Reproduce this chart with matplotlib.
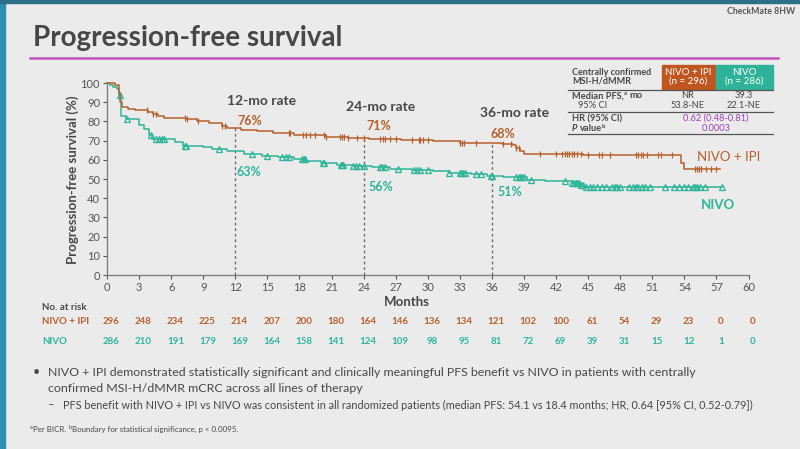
import numpy as np
import matplotlib
matplotlib.use("Agg")
import matplotlib.pyplot as plt
from matplotlib.transforms import blended_transform_factory
from matplotlib.patches import Rectangle

# ---------------- data ----------------
months_ticks = list(range(0, 61, 3))
yticks = list(range(0, 101, 10))

combo_t = [0, 0.75, 1.1, 1.25, 1.4, 2.0, 2.6, 3.8, 4.3, 4.8, 5.3, 7.4, 8.4, 9.5, 10.8, 11.2,
           12.5, 14.0, 15.5, 17.5, 20.5, 22.5, 24.5, 27.5, 30.5, 33.0, 36.9, 38.0, 38.3, 38.6,
           39.0, 44.5, 53.7, 54.0]
combo_s = [100, 99, 95, 90, 87.5, 86.5, 86, 85, 84, 83, 82, 81, 80, 79, 77.5, 76.5,
           75.5, 75, 74, 73, 72, 71.5, 71, 70.5, 70, 69, 68, 67.5, 66, 64.5,
           63, 62.3, 58.5, 55]
combo_end = 57.3
combo_cens = [3.7, 4.3, 4.6, 7.3, 7.5, 8.5, 10.8, 11.0, 17.0, 17.1, 18.3, 18.6, 19.0, 19.5,
              20.3, 20.5, 21.8, 22.0, 22.2, 22.5, 23.4, 24.0, 25.5, 25.8, 26.0, 26.5, 27.0,
              28.5, 29.2, 29.3, 29.6, 30.0, 33.0, 33.2, 33.4, 34.5, 37.0, 37.8, 38.3, 38.5,
              40.5, 42.0, 42.6, 42.8, 43.0, 43.2, 43.5, 43.7, 44.0, 44.3, 45.0, 46.0, 46.3,
              47.0, 49.5, 49.7, 49.9, 50.1, 50.5, 51.5, 51.8, 52.8, 55.0, 55.2, 55.4, 55.6,
              56.0, 56.5, 57.0]

nivo_t = [0, 0.3, 0.6, 0.9, 1.1, 1.35, 1.8, 3.0, 3.5, 3.9, 4.2, 6.4, 7.1, 9.0, 9.8, 11.2,
          12.8, 14.5, 16.0, 17.5, 18.6, 20.0, 21.5, 23.0, 24.8, 26.5, 28.5, 30.5, 32.0,
          34.0, 35.5, 37.0, 39.3, 41.0, 43.5, 44.2, 44.6]
nivo_s = [100, 99, 98, 97, 94, 83, 81, 78, 76, 73, 71, 69.5, 67, 66.5, 65.5, 64.5,
          63, 62, 61.5, 60.5, 59.5, 58.5, 57.5, 57, 56, 55, 54.5, 54, 53,
          52.5, 51.5, 51, 49.5, 49, 48, 47, 46]
nivo_end = 57.5
nivo_cens = [1.2, 1.9, 4.1, 4.6, 4.9, 5.1, 5.3, 7.3, 7.4, 10.5, 13.6, 15.0, 16.4, 16.7, 17.0,
             18.2, 18.4, 18.5, 20.2, 20.3, 21.9, 22.0, 22.1, 23.0, 23.3, 23.6, 24.0, 25.5,
             25.7, 26.0, 27.2, 28.7, 29.0, 29.3, 30.0, 32.0, 33.0, 33.1, 33.3, 33.5, 34.5,
             35.0, 35.9, 36.0, 38.3, 38.5, 38.6, 38.8, 39.0, 39.7, 42.8, 43.5, 43.7, 43.9,
             44.0, 44.1, 44.3, 44.5, 44.8, 45.2, 45.5, 45.8, 46.3, 46.7, 47.2, 47.5, 47.7,
             48.0, 48.8, 49.2, 49.5, 49.7, 50.0, 50.3, 50.8, 52.2, 53.0, 53.5, 54.0, 54.3,
             54.8, 55.0, 55.2, 55.5, 55.9, 57.5]

rate_months = [12, 24, 36]
rate_titles = ["12-mo rate", "24-mo rate", "36-mo rate"]
combo_rates = ["76%", "71%", "68%"]
nivo_rates = ["63%", "56%", "51%"]

risk_combo = [296, 248, 234, 225, 214, 207, 200, 180, 164, 146, 136, 134, 121, 102, 100,
              61, 54, 29, 23, 0, 0]
risk_nivo = [286, 210, 191, 179, 169, 164, 158, 141, 124, 109, 98, 95, 81, 72, 69,
             39, 31, 15, 12, 1, 0]

# ---------------- style ----------------
BG = "#ebebeb"
ORANGE = "#b5602c"
GREEN = "#2db597"
PURPLE = "#9a40b8"
DARK = "#474747"
FONT = ["Lato", "DejaVu Sans"]
plt.rcParams["font.family"] = FONT

W, H = 800, 449
fig = plt.figure(figsize=(W / 100, H / 100), dpi=100, facecolor=BG)
renderer = fig.canvas.get_renderer()


def T(x, y, s, **kw):
    kw.setdefault("va", "center")
    return fig.text(x / W, 1 - y / H, s, **kw)


def chain(x, y, parts, **kw):
    """Place text pieces one after another; parts = (text, dy, gap_after, kwargs)."""
    for s, dy, gap, extra in parts:
        opts = dict(kw)
        opts.update(extra)
        t = T(x, y + dy, s, **opts)
        bb = t.get_window_extent(renderer)
        x = bb.x1 + gap


# slide decorations
fig.patches.append(Rectangle((0, 0), 5 / W, 1, transform=fig.transFigure,
                             color="#2f8fb0", zorder=0))
fig.patches.append(Rectangle((0, 1 - 2.5 / H), 1, 2.5 / H, transform=fig.transFigure,
                             color="#2c6f86", zorder=0))
fig.add_artist(plt.Line2D([30 / W, 778 / W], [1 - 57.5 / H] * 2, color="#c052c0", lw=1.8))

T(33, 38, "Progression-free survival", fontsize=20, fontweight="bold", color=DARK)
T(795, 11, "CheckMate 8HW", fontsize=6.3, fontweight="bold", color="#555555", ha="right")

# ---------------- axes ----------------
ax = fig.add_axes([107 / W, 1 - 275 / H, 641.5 / W, 192 / H])
ax.set_facecolor(BG)
ax.set_xlim(0, 60)
ax.set_ylim(0, 100)
for sp in ["top", "right"]:
    ax.spines[sp].set_visible(False)
for sp in ["left", "bottom"]:
    ax.spines[sp].set_color("#808080")
    ax.spines[sp].set_linewidth(1)
ax.set_xticks(months_ticks)
ax.set_yticks(yticks)
ax.tick_params(labelsize=8, colors="#555555", length=3, width=0.8, pad=2)


def step_vals(t, s, q):
    idx = np.searchsorted(t, q, side="right") - 1
    return np.asarray(s)[idx]


ct = np.array(combo_t + [combo_end])
cs = np.array(combo_s + [combo_s[-1]])
nt = np.array(nivo_t + [nivo_end])
ns = np.array(nivo_s + [nivo_s[-1]])

ax.step(nt, ns, where="post", color=GREEN, lw=1.1, clip_on=False, zorder=3)
ax.step(ct, cs, where="post", color=ORANGE, lw=1.1, clip_on=False, zorder=4)
ax.plot(nivo_cens, step_vals(nt, ns, nivo_cens), ls="none", marker="^", ms=4,
        mfc="none", mec=GREEN, mew=0.9, clip_on=False, zorder=3)
ax.plot(combo_cens, step_vals(ct, cs, combo_cens), ls="none", marker="|", ms=5,
        mec=ORANGE, mew=0.9, clip_on=False, zorder=4)

# dashed landmark lines
ax.vlines(rate_months, 0, step_vals(ct, cs, rate_months), colors="#6e6e6e",
          linestyles=(0, (2, 2)), lw=1, zorder=2)

rate_title_pos = [(14.5, 90.8), (25.6, 87.6), (38.1, 84.5)]
combo_rate_pos = [(12.15, 80.2), (24.3, 77.4), (35.9, 73.2)]
nivo_rate_pos = [(12.15, 53.7), (24.5, 45.9), (36.5, 43.3)]
for i in range(3):
    ax.text(*rate_title_pos[i], rate_titles[i], fontsize=10, fontweight="bold",
            color=DARK, ha="center", va="center")
    ax.text(*combo_rate_pos[i], combo_rates[i], fontsize=9, fontweight="bold",
            color=ORANGE, ha="left", va="center")
    ax.text(*nivo_rate_pos[i], nivo_rates[i], fontsize=9, fontweight="bold",
            color=GREEN, ha="left", va="center")

ax.text(55.2, 61.6, "NIVO + IPI", fontsize=9.5, color=ORANGE, va="center")
ax.text(55.5, 36.5, "NIVO", fontsize=9.5, fontweight="bold", color=GREEN, va="center")

T(73, 180, "Progression-free survival (%)", fontsize=9.5, fontweight="bold",
  color=DARK, rotation=90, ha="center")
T(407, 302, "Months", fontsize=9.5, fontweight="bold", color=DARK, ha="center")

# ---------------- number at risk ----------------
tr = blended_transform_factory(ax.transData, fig.transFigure)
T(42, 308, "No. at risk", fontsize=7, fontweight="bold", color=DARK)
T(42, 321, "NIVO + IPI", fontsize=7, fontweight="bold", color=ORANGE)
T(42, 341, "NIVO", fontsize=7, fontweight="bold", color=GREEN)
for m, a, b in zip(months_ticks, risk_combo, risk_nivo):
    ax.text(m + 0.4, 1 - 321 / H, str(a), transform=tr, fontsize=7, fontweight="bold",
            color=ORANGE, ha="center", va="center")
    ax.text(m + 0.4, 1 - 341 / H, str(b), transform=tr, fontsize=7, fontweight="bold",
            color=GREEN, ha="center", va="center")

# ---------------- summary table ----------------
fig.patches.append(Rectangle((661.5 / W, 1 - 88.5 / H), 53.5 / W, 23.5 / H,
                             transform=fig.transFigure, color="#c0561f", zorder=1))
fig.patches.append(Rectangle((715.5 / W, 1 - 88.5 / H), 57.5 / W, 23.5 / H,
                             transform=fig.transFigure, color="#2eb39a", zorder=1))
T(572, 77, "Centrally confirmed\nMSI-H/dMMR", fontsize=6.5, fontweight="bold",
  color=DARK, linespacing=0.95)
T(688, 77, "NIVO + IPI\n(n = 296)", fontsize=7, color="white", ha="center",
  linespacing=1.0)
T(744, 77, "NIVO\n(n = 286)", fontsize=7, color="white", ha="center", linespacing=1.0)
for yy in [89.5, 112.3, 134.3]:
    fig.add_artist(plt.Line2D([568 / W, 773 / W], [1 - yy / H] * 2, color="#555555",
                              lw=0.9))
chain(572, 95.8, [("Median PFS,", 0, 0.4, {}),
                  ("a", -2.0, 2.2, {"fontsize": 4.3}),
                  ("mo", 0, 0, {})],
      fontsize=6.7, fontweight="bold", color=DARK)
T(688, 95.8, "NR", fontsize=6.7, color=DARK, ha="center")
T(744, 95.8, "39.3", fontsize=6.7, color=DARK, ha="center")
T(578, 106.0, "95% CI", fontsize=6.7, color=DARK)
T(688, 106.0, "53.8-NE", fontsize=6.7, color=DARK, ha="center")
T(744, 106.0, "22.1-NE", fontsize=6.7, color=DARK, ha="center")
T(572, 118.5, "HR (95% CI)", fontsize=6.7, fontweight="bold", color=DARK)
T(716, 118.5, "0.62 (0.48-0.81)", fontsize=6.7, color=PURPLE, ha="center")
chain(572, 128.3, [("P", 0, 2.2, {"style": "italic"}),
                   ("value", 0, 0.4, {}),
                   ("b", -2.0, 0, {"fontsize": 4.3})],
      fontsize=6.7, fontweight="bold", color=DARK)
T(716, 128.3, "0.0003", fontsize=6.7, color=PURPLE, ha="center")

# ---------------- bullets ----------------
T(33, 372, "\u2022", fontsize=9, color=DARK)
T(48, 372, "NIVO + IPI demonstrated statistically significant and clinically meaningful "
  "PFS benefit vs NIVO in patients with centrally", fontsize=8.9, color=DARK)
T(48, 389, "confirmed MSI-H/dMMR mCRC across all lines of therapy", fontsize=8.9,
  color=DARK)
T(48, 405, "\u2013", fontsize=8, color=DARK)
T(63, 405, "PFS benefit with NIVO + IPI vs NIVO was consistent in all randomized patients "
  "(median PFS: 54.1 vs 18.4 months; HR, 0.64 [95% CI, 0.52-0.79])", fontsize=7.85,
  color=DARK)
chain(30, 429, [("a", -1.8, 0.3, {"fontsize": 4}),
                ("Per BICR.", 0, 2.0, {}),
                ("b", -1.8, 0.3, {"fontsize": 4}),
                ("Boundary for statistical significance, p < 0.0095.", 0, 0, {})],
      fontsize=5.7, color=DARK)

fig.savefig("out.png", dpi=100, facecolor=BG)
